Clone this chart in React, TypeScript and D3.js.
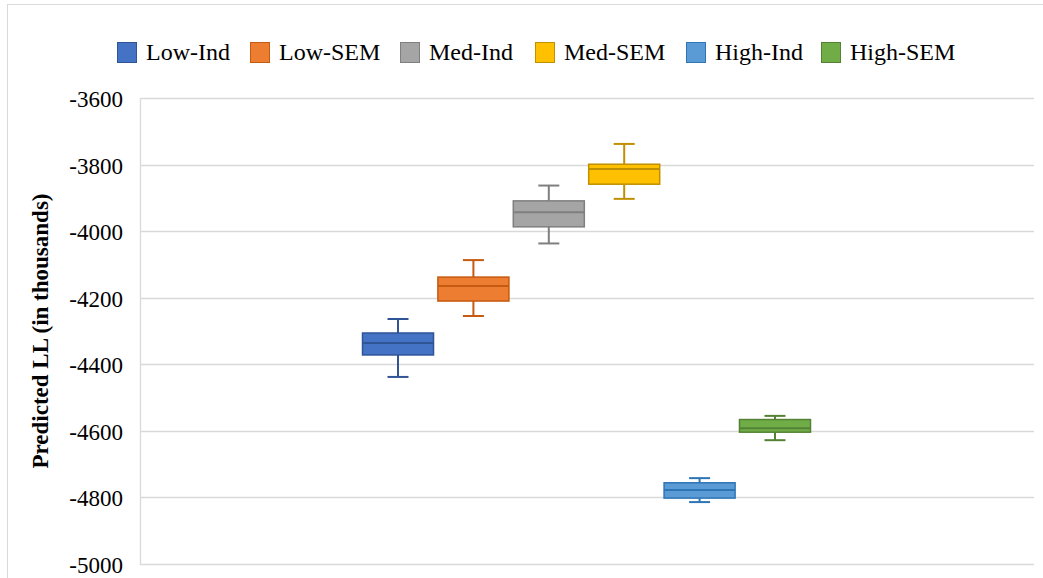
import { useEffect, useRef } from "react";
import * as d3 from "d3";

// series (one category, six boxes)
const seriesNames = ["Low-Ind", "Low-SEM", "Med-Ind", "Med-SEM", "High-Ind", "High-SEM"];
const fillColors = ["#4472C4", "#ED7D31", "#A5A5A5", "#FFC000", "#5B9BD5", "#70AD47"];
const strokeColors = ["#2F5597", "#C55A11", "#7F7F7F", "#BF9000", "#2E75B6", "#548235"];

// five-number summaries
const whiskerLow = [-4438, -4255, -4037, -3903, -4814, -4628];
const q1 = [-4372, -4210, -3987, -3859, -4802, -4604];
const median = [-4336, -4165, -3943, -3813, -4778, -4592];
const q3 = [-4306, -4138, -3909, -3799, -4756, -4566];
const whiskerHigh = [-4264, -4087, -3863, -3738, -4742, -4555];

const yTicks = [-3600, -3800, -4000, -4200, -4400, -4600, -4800, -5000];

const W = 1043;
const H = 578;
const FONT = "'Liberation Serif', 'Times New Roman', serif";

function App() {
	const ref = useRef<SVGSVGElement>(null);

	useEffect(() => {
		const svg = d3.select(ref.current);
		svg.selectAll("*").remove();

		const margin = { top: 98, right: 9, bottom: 14, left: 140 };
		const plotRight = W - margin.right;
		const plotBottom = H - margin.bottom;

		// outer chart border
		svg.append("line").attr("x1", 7).attr("x2", W).attr("y1", 4.5).attr("y2", 4.5)
			.attr("stroke", "#d9d9d9");
		svg.append("line").attr("x1", 7.5).attr("x2", 7.5).attr("y1", 4).attr("y2", H)
			.attr("stroke", "#d9d9d9");

		const y = d3.scaleLinear().domain([-5000, -3600]).range([plotBottom, margin.top]);

		// boxes sit side by side in the middle of the single category
		const x = d3.scaleBand<string>()
			.domain(seriesNames)
			.range([362.5, 810.5])
			.paddingInner(0.058);

		// gridlines
		svg.append("g").selectAll("line").data(yTicks).enter().append("line")
			.attr("x1", margin.left).attr("x2", plotRight)
			.attr("y1", (d) => Math.round(y(d)) + 0.5).attr("y2", (d) => Math.round(y(d)) + 0.5)
			.attr("stroke", "#d9d9d9").attr("stroke-width", 1.3);
		svg.append("line").attr("x1", margin.left + 0.5).attr("x2", margin.left + 0.5)
			.attr("y1", margin.top).attr("y2", plotBottom)
			.attr("stroke", "#d9d9d9").attr("stroke-width", 1.3);

		// tick labels
		svg.append("g").selectAll("text").data(yTicks).enter().append("text")
			.attr("x", 123).attr("y", (d) => y(d) + 9)
			.attr("text-anchor", "end")
			.style("font-family", FONT)
			.style("font-size", "23px").attr("fill", "#000")
			.text((d) => d);

		// axis title
		svg.append("text")
			.attr("transform", `translate(48,${(margin.top + plotBottom) / 2}) rotate(-90)`)
			.attr("text-anchor", "middle")
			.style("font-family", FONT)
			.style("font-size", "23px").style("font-weight", "bold")
			.text("Predicted LL (in thousands)");

		// boxes
		const bw = x.bandwidth();
		const cap = 21;
		const g = svg.append("g").selectAll("g").data(seriesNames).enter().append("g");
		g.each(function (name, i) {
			const sel = d3.select(this);
			const x0 = x(name) as number;
			const cx = x0 + bw / 2;
			const col = strokeColors[i];
			sel.append("line").attr("x1", cx).attr("x2", cx)
				.attr("y1", y(whiskerHigh[i])).attr("y2", y(q3[i]))
				.attr("stroke", col).attr("stroke-width", 2);
			sel.append("line").attr("x1", cx).attr("x2", cx)
				.attr("y1", y(q1[i])).attr("y2", y(whiskerLow[i]))
				.attr("stroke", col).attr("stroke-width", 2);
			[whiskerHigh[i], whiskerLow[i]].forEach((v) => {
				sel.append("line").attr("x1", cx - cap / 2).attr("x2", cx + cap / 2)
					.attr("y1", y(v)).attr("y2", y(v))
					.attr("stroke", col).attr("stroke-width", 2);
			});
			sel.append("rect")
				.attr("x", x0).attr("width", bw)
				.attr("y", y(q3[i])).attr("height", y(q1[i]) - y(q3[i]))
				.attr("fill", fillColors[i]).attr("stroke", col).attr("stroke-width", 1.5);
			sel.append("line").attr("x1", x0).attr("x2", x0 + bw)
				.attr("y1", y(median[i])).attr("y2", y(median[i]))
				.attr("stroke", col).attr("stroke-width", 2);
		});

		// legend
		const legendX = [117, 250, 400, 535, 686, 821];
		const lg = svg.append("g").selectAll("g").data(seriesNames).enter().append("g")
			.attr("transform", (d, i) => `translate(${legendX[i]},42)`);
		lg.append("rect").attr("x", 0.5).attr("y", 0.5).attr("width", 19).attr("height", 20)
			.attr("fill", (d, i) => fillColors[i])
			.attr("stroke", (d, i) => strokeColors[i]);
		lg.append("text").attr("x", 29).attr("y", 18)
			.style("font-family", FONT)
			.style("font-size", "24px").attr("fill", "#000")
			.text((d) => d);
	}, []);

	return (
		<svg
			ref={ref}
			width={W}
			height={H}
			style={{ position: "absolute", left: 0, top: 0, background: "#fff" }}
		/>
	);
}

export default App;
